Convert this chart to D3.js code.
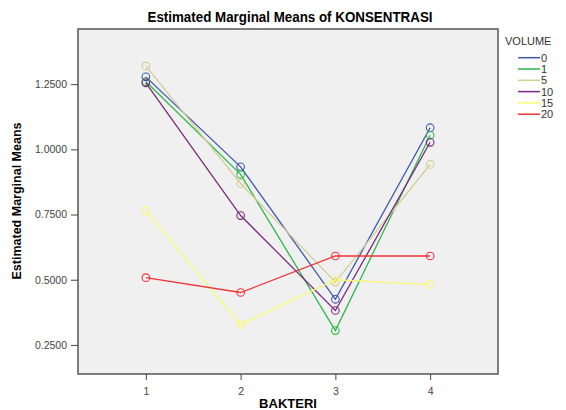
<!DOCTYPE html>
<html>
<head>
<meta charset="utf-8">
<script src="https://cdn.jsdelivr.net/npm/d3@7"></script>
<style>
  body { margin: 0; background: #fff; }
  text { font-family: "Liberation Sans", Arial, sans-serif; }
</style>
</head>
<body>
<svg id="chart" width="566" height="410"></svg>
<script>
// data
var bakteri = [1, 2, 3, 4];
var volumes = ["0", "1", "5", "10", "15", "20"];
var colors = ["#3e58ac", "#2eb848", "#d3ce97", "#7c287d", "#fbf873", "#ef3338"];
var vol0 = [1.278, 0.933, 0.425, 1.083];
var vol1 = [1.260, 0.904, 0.305, 1.054];
var vol5 = [1.320, 0.869, 0.491, 0.942];
var vol10 = [1.255, 0.746, 0.382, 1.027];
var vol15 = [0.764, 0.328, 0.500, 0.481];
var vol20 = [0.508, 0.451, 0.591, 0.591];
var yTicks = [0.25, 0.5, 0.75, 1.0, 1.25];

var series = [vol0, vol1, vol5, vol10, vol15, vol20];

var svg = d3.select("#chart");
// plot frame ("top" is taken by window.top, so prefix these)
var plotL = 78, plotR = 498, plotT = 29, plotB = 374;

var x = d3.scaleLinear().domain([0.284, 4.716]).range([plotL, plotR]);
var y = d3.scaleLinear().domain([0.1385, 1.4615]).range([plotB, plotT]);

// title
svg.append("text")
  .attr("x", 290).attr("y", 22)
  .attr("text-anchor", "middle")
  .style("font-size", "14px").style("font-weight", "bold")
  .attr("textLength", 285).attr("lengthAdjust", "spacingAndGlyphs")
  .text("Estimated Marginal Means of KONSENTRASI");

// plot area
svg.append("rect")
  .attr("x", plotL).attr("y", plotT)
  .attr("width", plotR - plotL).attr("height", plotB - plotT)
  .attr("fill", "#f0f0f0").attr("stroke", "#555").attr("stroke-width", 1.5);

// axes
var yAxis = svg.append("g")
  .attr("transform", "translate(" + plotL + ",0)")
  .call(d3.axisLeft(y).tickValues(yTicks).tickFormat(d3.format(".4f")).tickSize(7).tickSizeOuter(0));
yAxis.select(".domain").remove();
yAxis.selectAll("line").attr("stroke", "#444");
yAxis.selectAll("text").attr("fill", "#444").style("font-size", "10.5px").attr("dx", "-1");

var xAxis = svg.append("g")
  .attr("transform", "translate(0," + plotB + ")")
  .call(d3.axisBottom(x).tickValues(bakteri).tickFormat(d3.format("d")).tickSize(6).tickSizeOuter(0));
xAxis.select(".domain").remove();
xAxis.selectAll("line").attr("stroke", "#444");
xAxis.selectAll("text").attr("fill", "#444").style("font-size", "10.5px").attr("dy", "1.1em");

// axis titles
svg.append("text")
  .attr("x", 288).attr("y", 408)
  .attr("text-anchor", "middle")
  .style("font-size", "13px").style("font-weight", "bold")
  .text("BAKTERI");

svg.append("text")
  .attr("transform", "translate(21,201) rotate(-90)")
  .attr("text-anchor", "middle")
  .style("font-size", "12px").style("font-weight", "bold")
  .attr("textLength", 157).attr("lengthAdjust", "spacingAndGlyphs")
  .text("Estimated Marginal Means");

// lines and markers
var line = d3.line()
  .x(function(d, i) { return x(bakteri[i]); })
  .y(function(d) { return y(d); });

series.forEach(function(vals, s) {
  var g = svg.append("g");
  g.append("path")
    .attr("d", line(vals))
    .attr("fill", "none")
    .attr("stroke", colors[s])
    .attr("stroke-width", 1.3);
  g.selectAll("circle")
    .data(vals)
    .enter()
    .append("circle")
      .attr("cx", function(d, i) { return x(bakteri[i]); })
      .attr("cy", function(d) { return y(d); })
      .attr("r", 3.8)
      .attr("fill", "none")
      .attr("stroke", colors[s])
      .attr("stroke-width", 1.1);
});

// legend
svg.append("text")
  .attr("x", 505).attr("y", 45)
  .style("font-size", "11px").attr("fill", "#333")
  .text("VOLUME");

var leg = svg.selectAll(".leg")
  .data(volumes)
  .enter()
  .append("g")
  .attr("class", "leg")
  .attr("transform", function(d, i) { return "translate(0," + (57.7 + i * 11.3) + ")"; });
leg.append("line")
  .attr("x1", 518).attr("x2", 540)
  .attr("stroke", function(d, i) { return colors[i]; })
  .attr("stroke-width", 1.5);
leg.append("text")
  .attr("x", 541).attr("y", 4)
  .style("font-size", "11px").attr("fill", "#333")
  .text(function(d) { return d; });
</script>
</body>
</html>
